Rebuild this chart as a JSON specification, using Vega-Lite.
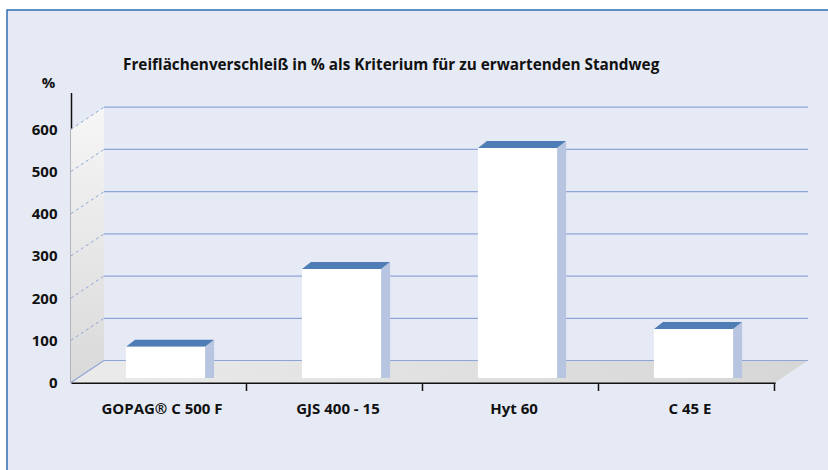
{
  "$schema": "https://vega.github.io/schema/vega-lite/v6.json",
  "width": 704,
  "height": 290,
  "autosize": {"type": "none"},
  "padding": {"left": 71, "top": 92.5, "right": 53, "bottom": 87.5},
  "background": "#e6eaf4",
  "config": {
    "view": {"stroke": null},
    "font": "Open Sans",
    "axisX": {
      "zindex": 1, "labelAngle": 0, "domainColor": "#111111", "domainWidth": 2,
      "tickColor": "#111111", "tickWidth": 1.5, "tickSize": 8, "bandPosition": 1.611,
      "labelOffset": 3, "labelPadding": 11, "labelFont": "Open Sans", "labelFontSize": 15,
      "labelFontWeight": "bold", "labelColor": "#111111", "grid": false
    },
    "axisY": {
      "zindex": 1, "grid": false, "ticks": false,
      "domainColor": "#111111", "domainWidth": 1.5, "labelPadding": 14,
      "labelFont": "Open Sans", "labelFontSize": 15, "labelFontWeight": "bold", "labelColor": "#111111",
      "titleAngle": 0, "titleX": -23, "titleY": -10, "titleAlign": "center",
      "titleBaseline": "middle", "titleFont": "Open Sans", "titleFontSize": 15, "titleFontWeight": "bold",
      "titleColor": "#111111"
    }
  },
  "title": {
    "text": "Freiflächenverschleiß in % als Kriterium für zu erwartenden Standweg",
    "anchor": "start",
    "frame": "group",
    "dx": 52,
    "dy": 73,
    "offset": 0,
    "font": "Open Sans",
    "fontSize": 15.3,
    "fontWeight": "bold",
    "color": "#111111"
  },
  "datasets": {
    "bars": [
      {"Werkstoff": "GOPAG® C 500 F", "Verschleiss": 74},
      {"Werkstoff": "GJS 400 - 15", "Verschleiss": 258},
      {"Werkstoff": "Hyt 60", "Verschleiss": 545},
      {"Werkstoff": "C 45 E", "Verschleiss": 116}
    ],
    "grid": [{"v": 0}, {"v": 100}, {"v": 200}, {"v": 300}, {"v": 400}, {"v": 500}, {"v": 600}],
    "one": [{"k": 1}]
  },
  "layer": [
    {
      "data": {"name": "one"},
      "mark": {"type": "rect", "fill": "#ffffff", "strokeWidth": 0},
      "encoding": {
        "x": {"value": -71}, "x2": {"value": 757},
        "y": {"value": -92.5}, "y2": {"value": -82.5}
      }
    },
    {
      "data": {"name": "one"},
      "mark": {"type": "rect", "fill": "#ffffff", "strokeWidth": 0},
      "encoding": {
        "x": {"value": -71}, "x2": {"value": -64},
        "y": {"value": -92.5}, "y2": {"value": 377.5}
      }
    },
    {
      "data": {"name": "one"},
      "mark": {"type": "rect", "fill": null, "stroke": "#2e6db4", "strokeWidth": 1.5},
      "encoding": {
        "x": {"value": -64}, "x2": {"value": 762},
        "y": {"value": -82.5}, "y2": {"value": 382.5}
      }
    },
    {
      "data": {"name": "one"},
      "mark": {
        "type": "point",
        "shape": "M -0.118 0.983 L -0.118 -0.826 L 0.118 -0.983 L 0.118 0.826 Z",
        "size": 78400, "filled": true, "opacity": 1, "strokeWidth": 0,
        "fill": {"gradient": "linear", "x1": 0, "y1": 0, "x2": 0, "y2": 1,
          "stops": [{"offset": 0, "color": "#f6f6f6"}, {"offset": 1, "color": "#d9d9d9"}]},
        "yOffset": -11
      },
      "encoding": {
        "x": {"value": 16.5},
        "y": {"datum": 300, "type": "quantitative", "title": "%", "scale": {"domain": [0, 687], "nice": false}, "axis": {"values": [0, 100, 200, 300, 400, 500, 600]}}
      }
    },
    {
      "data": {"name": "one"},
      "mark": {
        "type": "point",
        "shape": "M -1 0.0299 L 0.9104 0.0299 L 1 -0.0299 L -0.9104 -0.0299 Z",
        "size": 543169, "filled": true, "opacity": 1, "strokeWidth": 0,
        "fill": {"gradient": "linear", "x1": 0, "y1": 0, "x2": 1, "y2": 0,
          "stops": [{"offset": 0, "color": "#ebebeb"}, {"offset": 1, "color": "#d6d6d6"}]},
        "yOffset": -11
      },
      "encoding": {
        "x": {"value": 368.5},
        "y": {"datum": 0, "type": "quantitative", "title": "%", "scale": {"domain": [0, 687], "nice": false}, "axis": {"values": [0, 100, 200, 300, 400, 500, 600]}}
      }
    },
    {
      "data": {"name": "grid"},
      "mark": {"type": "rule", "stroke": "#8ea6d6", "strokeWidth": 1.2, "yOffset": -22},
      "encoding": {
        "x": {"value": 33}, "x2": {"value": 737},
        "y": {"field": "v", "type": "quantitative", "title": "%", "scale": {"domain": [0, 687], "nice": false}, "axis": {"values": [0, 100, 200, 300, 400, 500, 600]}}
      }
    },
    {
      "data": {"name": "grid"},
      "transform": [{"filter": "datum.v > 0"}],
      "mark": {"type": "rule", "stroke": "#8ea6d6", "strokeWidth": 1, "strokeDash": [3, 3], "y2Offset": -22},
      "encoding": {
        "x": {"value": 0}, "x2": {"value": 33},
        "y": {"field": "v", "type": "quantitative", "title": "%", "scale": {"domain": [0, 687], "nice": false}, "axis": {"values": [0, 100, 200, 300, 400, 500, 600]}},
        "y2": {"field": "v"}
      }
    },
    {
      "data": {"name": "grid"},
      "transform": [{"filter": "datum.v == 0"}],
      "mark": {"type": "rule", "stroke": "#8ea6d6", "strokeWidth": 1.2, "y2Offset": -22},
      "encoding": {
        "x": {"value": 0}, "x2": {"value": 33},
        "y": {"field": "v", "type": "quantitative", "title": "%", "scale": {"domain": [0, 687], "nice": false}, "axis": {"values": [0, 100, 200, 300, 400, 500, 600]}},
        "y2": {"field": "v"}
      }
    },
    {
      "data": {"name": "bars"},
      "mark": {"type": "bar", "width": 9, "fill": "#b7c5e0", "xOffset": 50.6, "yOffset": -4.5, "y2Offset": -11.5},
      "encoding": {
        "x": {"field": "Werkstoff", "type": "nominal", "sort": null, "title": null, "scale": {"paddingInner": 0.55, "paddingOuter": 0.275}},
        "y": {"field": "Verschleiss", "type": "quantitative", "title": "%", "scale": {"domain": [0, 687], "nice": false}, "axis": {"values": [0, 100, 200, 300, 400, 500, 600]}}
      }
    },
    {
      "data": {"name": "bars"},
      "mark": {"type": "point", "shape": "M -1 0.778 L 1 -0.778 L 1 0.778 Z", "size": 81, "filled": true, "opacity": 1, "fill": "#b7c5e0", "strokeWidth": 0, "xOffset": 50.6, "yOffset": -8},
      "encoding": {
        "x": {"field": "Werkstoff", "type": "nominal", "sort": null, "title": null, "scale": {"paddingInner": 0.55, "paddingOuter": 0.275}},
        "y": {"field": "Verschleiss", "type": "quantitative", "title": "%", "scale": {"domain": [0, 687], "nice": false}, "axis": {"values": [0, 100, 200, 300, 400, 500, 600]}}
      }
    },
    {
      "data": {"name": "bars"},
      "mark": {"type": "point", "shape": "M -1 -0.778 L 1 -0.778 L -1 0.778 Z", "size": 81, "filled": true, "opacity": 1, "fill": "#b7c5e0", "strokeWidth": 0, "xOffset": 50.6, "yOffset": -8},
      "encoding": {
        "x": {"field": "Werkstoff", "type": "nominal", "sort": null, "title": null, "scale": {"paddingInner": 0.55, "paddingOuter": 0.275}},
        "y": {"datum": 0, "type": "quantitative", "title": "%", "scale": {"domain": [0, 687], "nice": false}, "axis": {"values": [0, 100, 200, 300, 400, 500, 600]}}
      }
    },
    {
      "data": {"name": "bars"},
      "mark": {"type": "point", "shape": "M -1 0.0795 L 0.7955 0.0795 L 1 -0.0795 L -0.7955 -0.0795 Z", "size": 7744, "filled": true, "opacity": 1, "fill": "#4f7db6", "strokeWidth": 0, "xOffset": 11, "yOffset": -8},
      "encoding": {
        "x": {"field": "Werkstoff", "type": "nominal", "sort": null, "title": null, "scale": {"paddingInner": 0.55, "paddingOuter": 0.275}},
        "y": {"field": "Verschleiss", "type": "quantitative", "title": "%", "scale": {"domain": [0, 687], "nice": false}, "axis": {"values": [0, 100, 200, 300, 400, 500, 600]}}
      }
    },
    {
      "data": {"name": "bars"},
      "mark": {"type": "bar", "fill": "#ffffff", "xOffset": 6.5, "yOffset": -4.5, "y2Offset": -4.5},
      "encoding": {
        "x": {"field": "Werkstoff", "type": "nominal", "sort": null, "title": null, "scale": {"paddingInner": 0.55, "paddingOuter": 0.275}},
        "y": {"field": "Verschleiss", "type": "quantitative", "title": "%", "scale": {"domain": [0, 687], "nice": false}, "axis": {"values": [0, 100, 200, 300, 400, 500, 600]}}
      }
    }
  ]
}
